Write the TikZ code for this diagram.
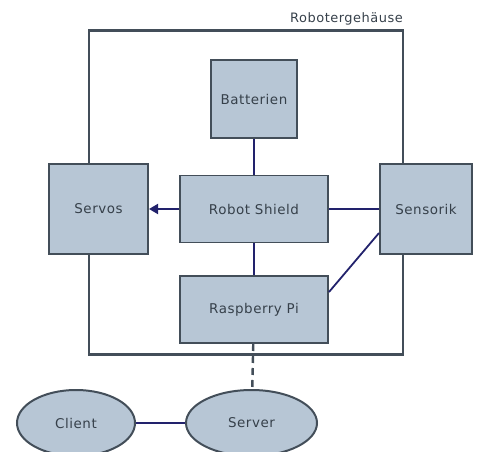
\documentclass[tikz,border=0pt]{standalone}
\usepackage{fontspec}
\setmainfont{DejaVu Sans}[LetterSpace=4]
\usetikzlibrary{shapes.geometric,arrows.meta}

\definecolor{boxfill}{HTML}{B7C6D5}
\definecolor{boxline}{HTML}{434E59}
\definecolor{wire}{HTML}{22226C}
\definecolor{txt}{HTML}{36404A}

\tikzset{
  unit/.style={draw=boxline, line width=2pt, fill=boxfill, inner sep=0pt,
    text=txt, font=\fontsize{13.5}{15}\selectfont},
  client/.style={unit, ellipse},
  link/.style={draw=wire, line width=1.8pt},
}

\begin{document}
\begin{tikzpicture}[x=1bp, y=-1bp]
  \useasboundingbox (0,0) rectangle (477,452);
  \clip (0,0) rectangle (477,452);

  % housing
  \node[draw=boxline, line width=2.4pt, minimum width=314bp, minimum height=324bp,
        inner sep=0pt] (housing) at (246,192.5) {};
  \node[anchor=east, text=txt, font=\fontsize{13}{15}\selectfont, inner sep=0pt]
        (housinglabel) at (403,19) {Robotergehäuse};

  % components
  \node[unit, minimum width=86bp, minimum height=78bp] (batt) at (254,99) {Batterien};
  \node[unit, minimum width=148bp, minimum height=67bp] (shield) at (254,209) {Robot Shield};
  \node[unit, minimum width=99bp, minimum height=90bp] (servos) at (98.5,209) {Servos};
  \node[unit, minimum width=92bp, minimum height=90bp] (sens) at (426,209) {Sensorik};
  \node[unit, minimum width=148bp, minimum height=67bp] (pi) at (254,309.5) {Raspberry Pi};

  % network
  \node[client, minimum width=118bp, minimum height=66bp] (client) at (76,423) {Client};
  \node[client, minimum width=131bp, minimum height=66bp] (server) at (251.5,423) {Server};

  % connections
  \draw[link] (batt) -- (shield);
  \draw[link, -{Triangle[length=9bp, width=10bp]}] (shield) -- (servos);
  \draw[link] (shield) -- (sens);
  \draw[link] (shield) -- (pi);
  \draw[link] (sens.west |- 0,233) coordinate (senslo) -- (pi.east |- 0,292);
  \draw[draw=boxline, line width=2.4pt, dash pattern=on 7bp off 5bp] (pi) -- (server);
  \draw[link] (client) -- (server);
\end{tikzpicture}
\end{document}
